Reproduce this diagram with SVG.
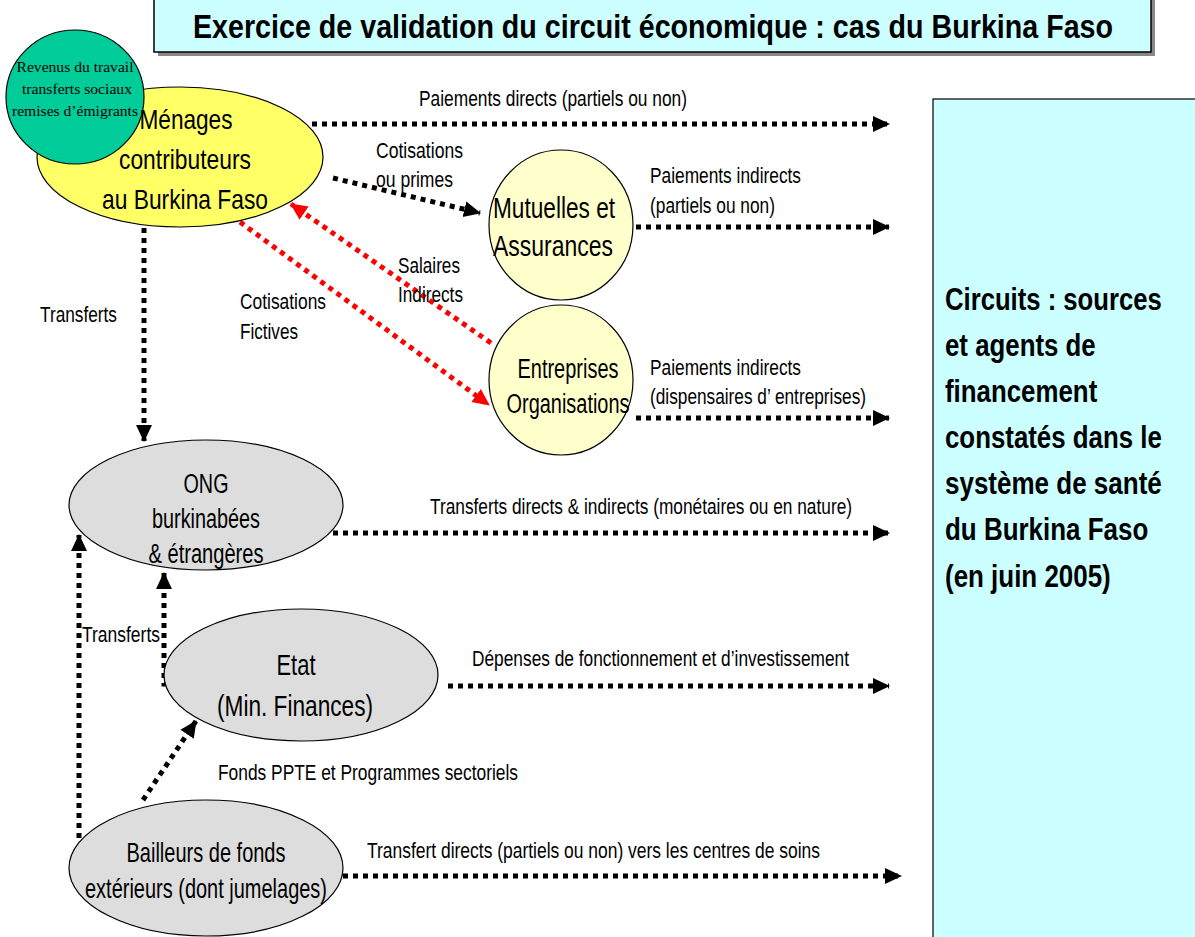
<svg xmlns="http://www.w3.org/2000/svg" width="1195" height="937" viewBox="0 0 1195 937">
<style>
.lbl{font-family:"Liberation Sans",Arial,sans-serif;font-size:22px;fill:#000}
.nt{font-family:"Liberation Sans",Arial,sans-serif;fill:#000;text-anchor:middle}
.bd{font-family:"Liberation Sans",Arial,sans-serif;font-weight:bold;fill:#000}
.blk{fill:none;stroke:#000;stroke-width:5;stroke-dasharray:5 5}
.red{fill:none;stroke:#f00;stroke-width:5;stroke-dasharray:5 5}
.node{stroke:#000;stroke-width:1.2}
</style>
<defs>
<marker id="ab" markerUnits="userSpaceOnUse" markerWidth="18" markerHeight="18" refX="16" refY="9" orient="auto"><path d="M0,1 L17,9 L0,17 Z" fill="#000"/></marker>
<marker id="ar" markerUnits="userSpaceOnUse" markerWidth="18" markerHeight="18" refX="16" refY="9" orient="auto"><path d="M0,1 L17,9 L0,17 Z" fill="#f00"/></marker>
</defs>
<rect width="1195" height="937" fill="#fff"/>
<g id="title">
<rect x="158" y="-6" width="997" height="62" fill="#888"/>
<rect x="154" y="-10" width="997" height="62" fill="#ccffff" stroke="#000" stroke-width="1.5"/>
<g transform="matrix(0.8 0 0 1 653 0)">
<text class="bd" x="0" y="38" text-anchor="middle" font-size="34" textLength="1150" lengthAdjust="spacingAndGlyphs">Exercice de validation du circuit économique : cas du Burkina Faso</text>
</g>
</g>
<g id="side">
<rect x="933" y="99" width="270" height="850" fill="#ccffff" stroke="#000" stroke-width="1.2"/>
<g class="bd" font-size="32" transform="matrix(0.75 0 0 1 945 0)">
<text x="0" y="310" textLength="289" lengthAdjust="spacingAndGlyphs">Circuits : sources</text>
<text x="0" y="356" textLength="201" lengthAdjust="spacingAndGlyphs">et agents de</text>
<text x="0" y="402" textLength="203" lengthAdjust="spacingAndGlyphs">financement</text>
<text x="0" y="448" textLength="289" lengthAdjust="spacingAndGlyphs">constatés dans le</text>
<text x="0" y="494" textLength="289" lengthAdjust="spacingAndGlyphs">système de santé</text>
<text x="0" y="540" textLength="271" lengthAdjust="spacingAndGlyphs">du Burkina Faso</text>
<text x="0" y="587" textLength="221" lengthAdjust="spacingAndGlyphs">(en juin 2005)</text>
</g>
</g>
<g id="connectors">
<line class="blk" x1="312" y1="124" x2="889" y2="124" marker-end="url(#ab)"/>
<line class="blk" x1="333" y1="178" x2="480" y2="213" marker-end="url(#ab)"/>
<line class="blk" x1="636" y1="227" x2="889" y2="227" marker-end="url(#ab)"/>
<line class="blk" x1="636" y1="418" x2="889" y2="418" marker-end="url(#ab)"/>
<line class="red" x1="491" y1="343" x2="291" y2="204" marker-end="url(#ar)"/>
<line class="red" x1="240" y1="222" x2="489" y2="405" marker-end="url(#ar)"/>
<line class="blk" x1="144" y1="228" x2="144" y2="441" marker-end="url(#ab)"/>
<line class="blk" x1="333" y1="533" x2="889" y2="533" marker-end="url(#ab)"/>
<polyline class="blk" points="168,684 164,684 164,573" marker-end="url(#ab)"/>
<line class="blk" x1="79" y1="838" x2="79" y2="535" marker-end="url(#ab)"/>
<line class="blk" x1="448" y1="686" x2="889" y2="686" marker-end="url(#ab)"/>
<line class="blk" x1="143" y1="800" x2="196" y2="721" marker-end="url(#ab)"/>
<line class="blk" x1="343" y1="876" x2="901" y2="876" marker-end="url(#ab)"/>
</g>
<g id="labels" class="lbl">
<text x="419" y="106" textLength="268" lengthAdjust="spacingAndGlyphs">Paiements directs (partiels ou non)</text>
<text x="376" y="158" textLength="87" lengthAdjust="spacingAndGlyphs">Cotisations</text>
<text x="376" y="187" textLength="77" lengthAdjust="spacingAndGlyphs">ou primes</text>
<text x="650" y="183" textLength="151" lengthAdjust="spacingAndGlyphs">Paiements indirects</text>
<text x="650" y="213" textLength="125" lengthAdjust="spacingAndGlyphs">(partiels ou non)</text>
<text x="650" y="375" textLength="151" lengthAdjust="spacingAndGlyphs">Paiements indirects</text>
<text x="650" y="404" textLength="216" lengthAdjust="spacingAndGlyphs">(dispensaires d’ entreprises)</text>
<text x="398" y="273" textLength="62" lengthAdjust="spacingAndGlyphs">Salaires</text>
<text x="398" y="302" textLength="65" lengthAdjust="spacingAndGlyphs">Indirects</text>
<text x="240" y="309" textLength="86" lengthAdjust="spacingAndGlyphs">Cotisations</text>
<text x="240" y="339" textLength="58" lengthAdjust="spacingAndGlyphs">Fictives</text>
<text x="40" y="322" textLength="77" lengthAdjust="spacingAndGlyphs">Transferts</text>
<text x="430" y="514" textLength="422" lengthAdjust="spacingAndGlyphs">Transferts directs &amp; indirects (monétaires ou en nature)</text>
<text x="82" y="642" textLength="78" lengthAdjust="spacingAndGlyphs">Transferts</text>
<text x="472" y="666" textLength="377" lengthAdjust="spacingAndGlyphs">Dépenses de fonctionnement et d’investissement</text>
<text x="218" y="780" textLength="300" lengthAdjust="spacingAndGlyphs">Fonds PPTE et Programmes sectoriels</text>
<text x="367" y="858" textLength="453" lengthAdjust="spacingAndGlyphs">Transfert directs (partiels ou non)  vers les centres de soins</text>
</g>
<g id="menages">
<ellipse class="node" cx="180" cy="157" rx="143" ry="70" fill="#ffff66"/>
<g id="revenus">
<ellipse class="node" cx="75" cy="97" rx="69" ry="67" fill="#00cc99"/>
<g font-family="Liberation Serif,serif" font-size="15" text-anchor="middle" fill="#000">
<text x="75" y="72" textLength="117" lengthAdjust="spacingAndGlyphs">Revenus du travail</text>
<text x="77" y="94" textLength="110" lengthAdjust="spacingAndGlyphs">transferts sociaux</text>
<text x="75" y="116" textLength="126" lengthAdjust="spacingAndGlyphs">remises d’émigrants</text>
</g>
</g>
<g class="nt" font-size="28">
<text x="186" y="129" textLength="93" lengthAdjust="spacingAndGlyphs">Ménages</text>
<text x="185" y="169" textLength="132" lengthAdjust="spacingAndGlyphs">contributeurs</text>
<text x="185" y="209" textLength="166" lengthAdjust="spacingAndGlyphs">au Burkina Faso</text>
</g>
</g>
<g id="mutuelles">
<ellipse class="node" cx="561" cy="225" rx="72" ry="75" fill="#ffffcc"/>
<g class="nt" font-size="30">
<text x="554" y="218" textLength="122" lengthAdjust="spacingAndGlyphs">Mutuelles et</text>
<text x="553" y="256" textLength="120" lengthAdjust="spacingAndGlyphs">Assurances</text>
</g>
</g>
<g id="entreprises">
<ellipse class="node" cx="561" cy="380" rx="72" ry="75" fill="#ffffcc"/>
<g class="nt" font-size="27">
<text x="568" y="378" textLength="101" lengthAdjust="spacingAndGlyphs">Entreprises</text>
<text x="568" y="413" textLength="123" lengthAdjust="spacingAndGlyphs">Organisations</text>
</g>
</g>
<g id="ong">
<ellipse class="node" cx="206" cy="505" rx="137" ry="65" fill="#dddddd"/>
<g class="nt" font-size="27">
<text x="206" y="493" textLength="45" lengthAdjust="spacingAndGlyphs">ONG</text>
<text x="206" y="528" textLength="108" lengthAdjust="spacingAndGlyphs">burkinabées</text>
<text x="206" y="563" textLength="115" lengthAdjust="spacingAndGlyphs">&amp; étrangères</text>
</g>
</g>
<g id="etat">
<ellipse class="node" cx="301" cy="675" rx="137" ry="66" fill="#dddddd"/>
<g class="nt" font-size="30">
<text x="296" y="675" textLength="39" lengthAdjust="spacingAndGlyphs">Etat</text>
<text x="295" y="716" textLength="156" lengthAdjust="spacingAndGlyphs">(Min. Finances)</text>
</g>
</g>
<g id="bailleurs">
<ellipse class="node" cx="206" cy="868" rx="137" ry="68" fill="#dddddd"/>
<g class="nt" font-size="28">
<text x="206" y="862" textLength="159" lengthAdjust="spacingAndGlyphs">Bailleurs de fonds</text>
<text x="206" y="898" textLength="242" lengthAdjust="spacingAndGlyphs">extérieurs (dont jumelages)</text>
</g>
</g>
</svg>
